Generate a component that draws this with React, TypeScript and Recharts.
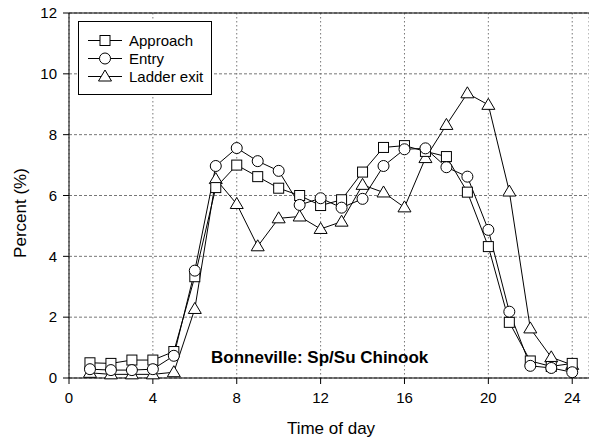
import React from "react";
import { CartesianGrid, Line, LineChart, ReferenceLine, XAxis, YAxis } from "recharts";

const hours = [1, 2, 3, 4, 5, 6, 7, 8, 9, 10, 11, 12, 13, 14, 15, 16, 17, 18, 19, 20, 21, 22, 23, 24];
const approach = [0.5, 0.48, 0.59, 0.59, 0.87, 3.33, 6.26, 7.0, 6.62, 6.24, 6.0, 5.67, 5.86, 6.77, 7.58, 7.64, 7.45, 7.28, 6.11, 4.32, 1.83, 0.56, 0.38, 0.48];
const entry = [0.29, 0.26, 0.26, 0.29, 0.73, 3.53, 6.97, 7.56, 7.13, 6.81, 5.69, 5.91, 5.6, 5.89, 6.97, 7.52, 7.55, 6.93, 6.62, 4.87, 2.18, 0.4, 0.33, 0.19];
const ladderExit = [0.17, 0.12, 0.12, 0.12, 0.19, 2.27, 6.54, 5.72, 4.33, 5.25, 5.31, 4.9, 5.14, 6.35, 6.1, 5.61, 7.23, 8.32, 9.36, 8.98, 6.13, 1.63, 0.68, 0.43];

const xTicks = [0, 4, 8, 12, 16, 20, 24];
const yTicks = [0, 2, 4, 6, 8, 10, 12];
const seriesNames = ["Approach", "Entry", "Ladder exit"];

const font = "'Liberation Sans', Arial, sans-serif";

const data = hours.map((h, i) => ({
  hour: h,
  approach: approach[i],
  entry: entry[i],
  ladder: ladderExit[i]
}));

function Square({ cx, cy }: { cx: number; cy: number }) {
  return <rect x={cx - 5} y={cy - 5} width={10} height={10} fill="#fff" stroke="#000" strokeWidth={1} />;
}

function Circle({ cx, cy }: { cx: number; cy: number }) {
  return <circle cx={cx} cy={cy} r={5.5} fill="#fff" stroke="#000" strokeWidth={1} />;
}

function Triangle({ cx, cy }: { cx: number; cy: number }) {
  const pts = `${cx},${cy - 6.5} ${cx + 6.5},${cy + 4.5} ${cx - 6.5},${cy + 4.5}`;
  return <polygon points={pts} fill="#fff" stroke="#000" strokeWidth={1} />;
}

const markers = [Square, Circle, Triangle];

function dotRenderer(Marker: typeof Square, name: string) {
  return (props: any) => <Marker key={`${name}-${props.index}`} cx={props.cx} cy={props.cy} />;
}

export default function App() {
  return (
    <div style={{ position: "absolute", left: 0, top: 0, width: 589, height: 440, background: "#fff" }}>
      <LineChart width={589} height={440} data={data} margin={{ top: 13, right: 0, bottom: 0, left: 0 }}>
        <CartesianGrid horizontal={true} vertical={false} stroke="#777" strokeDasharray="3 2" />
        <CartesianGrid horizontal={false} vertical={true} stroke="#777" strokeDasharray="1.5 2.5" />
        <XAxis
          dataKey="hour"
          type="number"
          domain={[0, 24.8]}
          ticks={xTicks}
          allowDataOverflow
          height={62}
          tickSize={6}
          tickMargin={8}
          stroke="#000"
          tick={{ fill: "#000", fontSize: 15, fontFamily: font }}
        />
        <YAxis
          type="number"
          domain={[0, 12]}
          ticks={yTicks}
          width={69}
          tickSize={6}
          tickMargin={6}
          stroke="#000"
          tick={{ fill: "#000", fontSize: 15, fontFamily: font }}
        />
        <ReferenceLine y={12} stroke="#000" />
        <Line
          dataKey="ladder"
          stroke="#000"
          strokeWidth={1}
          isAnimationActive={false}
          dot={dotRenderer(Triangle, "t")}
          activeDot={false}
        />
        <Line
          dataKey="approach"
          stroke="#000"
          strokeWidth={1}
          isAnimationActive={false}
          dot={dotRenderer(Square, "s")}
          activeDot={false}
        />
        <Line
          dataKey="entry"
          stroke="#000"
          strokeWidth={1}
          isAnimationActive={false}
          dot={dotRenderer(Circle, "c")}
          activeDot={false}
        />
      </LineChart>
      <svg
        width={589}
        height={440}
        style={{ position: "absolute", left: 0, top: 0, pointerEvents: "none" }}
        fontFamily={font}
      >
        <rect x={78.5} y={21.5} width={133} height={73} fill="#fff" stroke="#000" />
        {seriesNames.map((name, i) => {
          const Marker = markers[i];
          const y = 40.5 + i * 18;
          return (
            <g key={name}>
              <line x1={88} x2={122} y1={y} y2={y} stroke="#000" />
              <Marker cx={105} cy={y} />
              <text x={129} y={y + 5.5} fontSize={15} fill="#000">
                {name}
              </text>
            </g>
          );
        })}
        <text x={211} y={363} fontSize={17} fontWeight="bold" fill="#000">
          Bonneville: Sp/Su Chinook
        </text>
        <text x={331} y={434} fontSize={17} textAnchor="middle" fill="#000">
          Time of day
        </text>
        <text x={26} y={213} fontSize={17} textAnchor="middle" fill="#000" transform="rotate(-90 26 213)">
          Percent (%)
        </text>
      </svg>
    </div>
  );
}
